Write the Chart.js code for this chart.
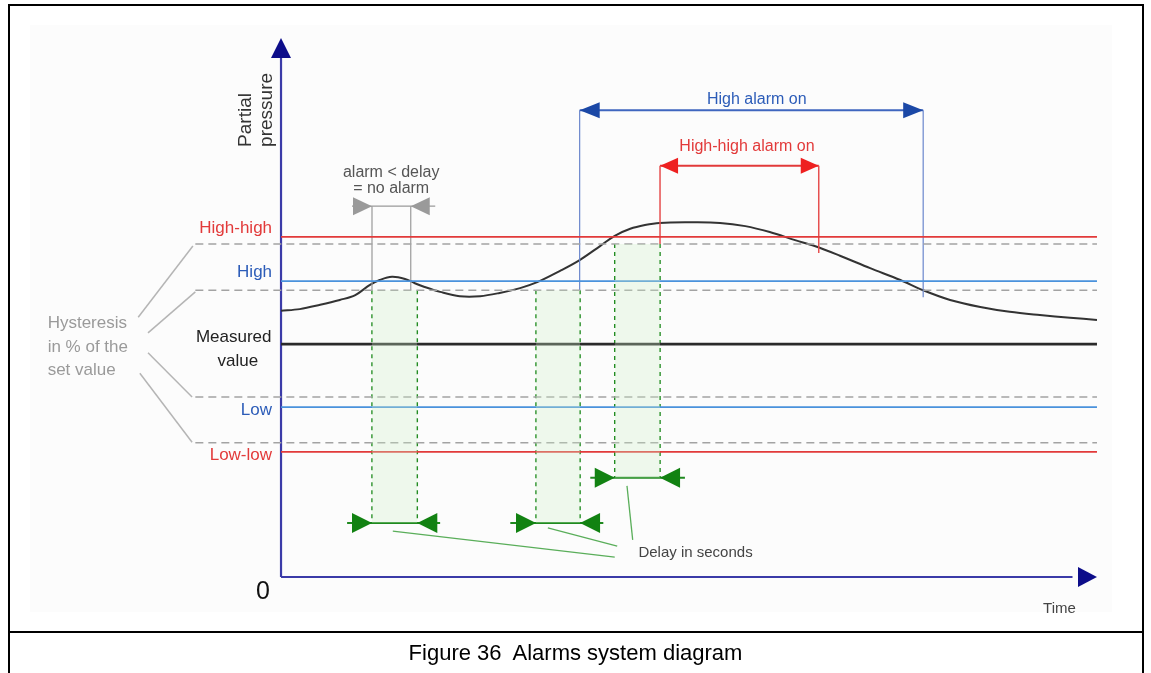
<!DOCTYPE html>
<html>
<head>
<meta charset="utf-8">
<script src="https://cdn.jsdelivr.net/npm/chart.js@4.4.1/dist/chart.umd.min.js"></script>
<style>
  html, body { margin: 0; padding: 0; background: #fff; }
  #wrap { position: relative; width: 1151px; height: 673px; overflow: hidden; }
  #chart-box { position: absolute; left: 0; top: 0; width: 1151px; height: 673px; }
  #frame { position: absolute; left: 8px; top: 4px; width: 1136px; height: 690px; border: 2px solid #000; box-sizing: border-box; pointer-events: none; }
  #sep { position: absolute; left: 8px; top: 631px; width: 1136px; height: 2px; background: #000; }
  #caption { position: absolute; left: 0; top: 640px; width: 1151px; text-align: center; font: 22px "Liberation Sans", Arial, sans-serif; color: #000; }
</style>
</head>
<body>
<div id="wrap">
  <div id="chart-box"><canvas id="chart"></canvas></div>
  <div id="frame"></div>
  <div id="sep"></div>
  <div id="caption">Figure 36&nbsp; Alarms system diagram</div>
</div>
<script>
// time axis 0..100, pressure axis 0..100 (arbitrary units)
const levelNames = ['High-high', 'High', 'Measured value', 'Low', 'Low-low'];
const levelValues = [63.1, 54.9, 43.2, 31.5, 23.2];
const hysteresisValues = [61.8, 53.2, 33.4, 24.9];
const hysteresisStart = -10.5;

const curveTime = [0, 2.3, 4.8, 7.2, 9.1, 10.9, 12.1, 13.6, 15.2, 16.4, 17.6, 19.5, 21.9, 24.4, 26.8, 29.3, 31.4, 34.2, 36.6, 39.1,
  40.9, 42.8, 44.6, 46.4, 50.1, 53.8, 56.9, 59.9, 63.0, 65.4, 68.5, 72.2, 75.9, 78.7, 82.0, 85.7, 89.3, 93.0, 96.7, 100];
const curvePressure = [49.4, 49.7, 50.5, 51.4, 52.3, 54.2, 55.1, 55.7, 55.3, 54.5, 53.8, 52.9, 52.1, 52.1, 52.7, 53.6, 54.7, 56.8, 58.8, 61.4,
  63.3, 64.6, 65.3, 65.7, 65.8, 65.7, 65.1, 64.0, 62.5, 61.4, 59.6, 57.3, 55.1, 53.2, 51.4, 50.1, 49.2, 48.6, 48.1, 47.7];

// delay windows (green)
const delayStart = [11.15, 31.25, 40.9];
const delayEnd = [16.7, 36.65, 46.45];
const delayTop = [53.2, 53.2, 61.8];
const delayArrowY = [10.0, 10.0, 18.4];
const delayLineFrom = [8.1, 28.1, 37.9];
const delayLineTo = [19.5, 39.5, 49.5];
const delayLeaderFrom = [[13.7, 8.5], [32.7, 9.1], [42.4, 16.9]];
const delayLeaderTo = [[40.9, 3.7], [41.2, 5.75], [43.1, 6.9]];

// short alarm (grey)
const noAlarmSpan = [11.15, 15.9];
const noAlarmY = 68.8;
const noAlarmLine = [8.7, 18.9];
const noAlarmBottom = 53.2;

// alarm periods
const highAlarmSpan = [36.6, 78.7];
const highAlarmY = 86.6;
const highAlarmBottom = [53.2, 51.9];
const highHighAlarmSpan = [46.45, 65.9];
const highHighAlarmY = 76.3;
const highHighAlarmBottom = [61.8, 60.1];

// leader lines from the hysteresis note
const hystLeaderFrom = [[-17.5, 48.2], [-16.3, 45.3], [-16.3, 41.6], [-17.3, 37.8]];
const hystLeaderTo = [[-10.8, 61.4], [-10.5, 52.9], [-10.9, 33.4], [-10.9, 25.0]];

const RED = '#e23a3a';
const BLUE_LINE = '#4a92dc';
const BLUE_TEXT = '#2c5cb8';
const GREEN = '#1f8a1f';
const FONT = '"Liberation Sans", Arial, sans-serif';

function seg(points, color, width, dash, extra) {
  return Object.assign({
    data: points.map(p => ({ x: p[0], y: p[1] })),
    borderColor: color,
    borderWidth: width,
    borderDash: dash || [],
    pointRadius: 0,
    fill: false,
    tension: 0
  }, extra || {});
}

const datasets = [];

// green shaded delay windows
delayStart.forEach((s, i) => {
  datasets.push(seg([[s, delayTop[i]], [delayEnd[i], delayTop[i]]], 'rgba(0,0,0,0)', 0, null, {
    fill: { value: delayArrowY[i] },
    backgroundColor: 'rgba(205,240,200,0.3)'
  }));
});

// hysteresis dashed lines
hysteresisValues.forEach(v => {
  datasets.push(seg([[hysteresisStart, v], [100, v]], '#a3a3a3', 1.5, [8, 5]));
});

// set levels
const levelColors = [RED, BLUE_LINE, '#2a2a2a', BLUE_LINE, RED];
const levelWidths = [1.8, 1.8, 2.6, 1.8, 1.8];
levelValues.forEach((v, i) => {
  datasets.push(seg([[0, v], [100, v]], levelColors[i], levelWidths[i]));
});

// hysteresis note leaders
hystLeaderFrom.forEach((p, i) => datasets.push(seg([p, hystLeaderTo[i]], '#b5b5b5', 1.5)));

// grey no-alarm marker
noAlarmSpan.forEach(x => datasets.push(seg([[x, noAlarmY], [x, noAlarmBottom]], '#9a9a9a', 1.2)));
datasets.push(seg([[noAlarmLine[0], noAlarmY], [noAlarmLine[1], noAlarmY]], '#9a9a9a', 1.2));

// green delay markers
delayStart.forEach((s, i) => {
  datasets.push(seg([[s, delayTop[i]], [s, delayArrowY[i]]], GREEN, 1.5, [4, 4]));
  datasets.push(seg([[delayEnd[i], delayTop[i]], [delayEnd[i], delayArrowY[i]]], GREEN, 1.5, [4, 4]));
  datasets.push(seg([[delayLineFrom[i], delayArrowY[i]], [delayLineTo[i], delayArrowY[i]]], GREEN, 2));
  datasets.push(seg([delayLeaderFrom[i], delayLeaderTo[i]], '#5aae5a', 1.3));
});

// high alarm
highAlarmSpan.forEach((x, i) => datasets.push(seg([[x, highAlarmY], [x, highAlarmBottom[i]]], '#6a86cc', 1.2)));
datasets.push(seg([[highAlarmSpan[0], highAlarmY], [highAlarmSpan[1], highAlarmY]], '#3f66bf', 2));

// high-high alarm
highHighAlarmSpan.forEach((x, i) => datasets.push(seg([[x, highHighAlarmY], [x, highHighAlarmBottom[i]]], '#e65050', 1.5)));
datasets.push(seg([[highHighAlarmSpan[0], highHighAlarmY], [highHighAlarmSpan[1], highHighAlarmY]], RED, 2));

// measured partial pressure
datasets.push(seg(curveTime.map((t, i) => [t, curvePressure[i]]), '#333', 2, null, { tension: 0.35 }));

// axes
datasets.push(seg([[0, 0], [0, 97]], '#3b3ba8', 2.2));
datasets.push(seg([[0, 0], [97, 0]], '#3b3ba8', 2.2));

const texts = [
  { t: 'Partial', x: -4.3, y: 79.8, c: '#333', size: 19, rot: true },
  { t: 'pressure', x: -1.7, y: 79.8, c: '#333', size: 19, rot: true },
  { t: levelNames[0], x: -1.1, y: 64.7, c: RED, size: 17, align: 'right' },
  { t: levelNames[1], x: -1.1, y: 56.6, c: BLUE_TEXT, size: 17, align: 'right' },
  { t: 'Measured', x: -5.8, y: 44.5, c: '#222', size: 17 },
  { t: 'value', x: -5.3, y: 40.0, c: '#222', size: 17 },
  { t: levelNames[3], x: -1.1, y: 31.0, c: BLUE_TEXT, size: 17, align: 'right' },
  { t: levelNames[4], x: -1.1, y: 22.6, c: RED, size: 17, align: 'right' },
  { t: 'Hysteresis', x: -28.6, y: 47.1, c: '#9a9a9a', size: 17, align: 'left' },
  { t: 'in % of the', x: -28.6, y: 42.7, c: '#9a9a9a', size: 17, align: 'left' },
  { t: 'set value', x: -28.6, y: 38.4, c: '#9a9a9a', size: 17, align: 'left' },
  { t: 'alarm < delay', x: 13.5, y: 75.0, c: '#555', size: 16 },
  { t: '= no alarm', x: 13.5, y: 72.0, c: '#555', size: 16 },
  { t: 'High alarm on', x: 58.3, y: 88.5, c: BLUE_TEXT, size: 16 },
  { t: 'High-high alarm on', x: 57.1, y: 79.8, c: RED, size: 16 },
  { t: 'Delay in seconds', x: 43.8, y: 4.45, c: '#444', size: 15, align: 'left' },
  { t: '0', x: -2.2, y: -2.8, c: '#111', size: 25 },
  { t: 'Time', x: 95.4, y: -6.0, c: '#444', size: 15 }
];

function head(ctx, x, y, dir, len, half, color) {
  ctx.beginPath();
  ctx.fillStyle = color;
  if (dir === 'right') { ctx.moveTo(x, y); ctx.lineTo(x - len, y - half); ctx.lineTo(x - len, y + half); }
  if (dir === 'left') { ctx.moveTo(x, y); ctx.lineTo(x + len, y - half); ctx.lineTo(x + len, y + half); }
  if (dir === 'up') { ctx.moveTo(x, y); ctx.lineTo(x - half, y + len); ctx.lineTo(x + half, y + len); }
  ctx.closePath();
  ctx.fill();
}

const diagramPlugin = {
  id: 'diagram',
  beforeDatasetsDraw(chart) {
    const ctx = chart.ctx;
    ctx.save();
    ctx.fillStyle = '#fcfcfc';
    ctx.fillRect(30, 25, 1082, 587);
    ctx.restore();
  },
  afterDatasetsDraw(chart) {
    const ctx = chart.ctx;
    const xs = chart.scales.x, ys = chart.scales.y;
    const X = v => xs.getPixelForValue(v), Y = v => ys.getPixelForValue(v);
    ctx.save();
    // axis arrows
    head(ctx, X(0), Y(100), 'up', 20, 10, '#0d0d8a');
    head(ctx, X(100), Y(0), 'right', 19, 10, '#0d0d8a');
    // grey
    head(ctx, X(noAlarmSpan[0]), Y(noAlarmY), 'right', 19, 9, '#9a9a9a');
    head(ctx, X(noAlarmSpan[1]), Y(noAlarmY), 'left', 19, 9, '#9a9a9a');
    // green
    delayStart.forEach((s, i) => {
      head(ctx, X(s), Y(delayArrowY[i]), 'right', 20, 10, '#128212');
      head(ctx, X(delayEnd[i]), Y(delayArrowY[i]), 'left', 20, 10, '#128212');
    });
    // blue & red
    head(ctx, X(highAlarmSpan[0]), Y(highAlarmY), 'left', 20, 8, '#1b48a6');
    head(ctx, X(highAlarmSpan[1]), Y(highAlarmY), 'right', 20, 8, '#1b48a6');
    head(ctx, X(highHighAlarmSpan[0]), Y(highHighAlarmY), 'left', 18, 8, '#ee2020');
    head(ctx, X(highHighAlarmSpan[1]), Y(highHighAlarmY), 'right', 18, 8, '#ee2020');

    texts.forEach(o => {
      ctx.font = o.size + 'px ' + FONT;
      ctx.fillStyle = o.c;
      ctx.textBaseline = 'middle';
      if (o.rot) {
        ctx.save();
        ctx.translate(X(o.x), Y(o.y));
        ctx.rotate(-Math.PI / 2);
        ctx.textAlign = 'left';
        ctx.fillText(o.t, 0, 0);
        ctx.restore();
      } else {
        ctx.textAlign = o.align || 'center';
        ctx.fillText(o.t, X(o.x), Y(o.y));
      }
    });
    ctx.restore();
  }
};

new Chart(document.getElementById('chart'), {
  type: 'line',
  data: { datasets },
  options: {
    responsive: true,
    maintainAspectRatio: false,
    animation: false,
    layout: { padding: 0 },
    plugins: { legend: { display: false }, tooltip: { enabled: false } },
    scales: {
      x: { type: 'linear', min: -34.44, max: 106.62, display: false },
      y: { type: 'linear', min: -17.81, max: 107.05, display: false }
    }
  },
  plugins: [diagramPlugin]
});
</script>
</body>
</html>
